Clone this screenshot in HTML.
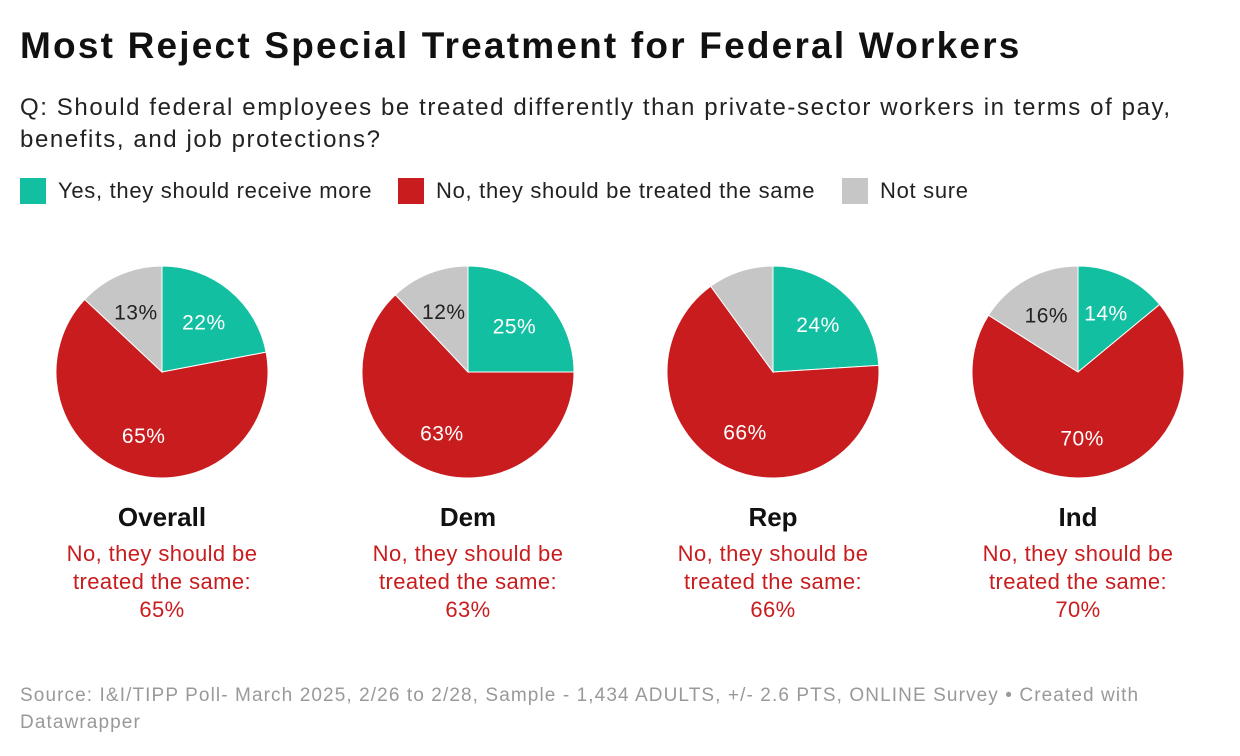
<!DOCTYPE html>
<html><head><meta charset="utf-8"><style>
body{margin:0;width:1240px;height:756px;background:#fff;font-family:"Liberation Sans",sans-serif;position:relative;overflow:hidden;color:#222}
.t{position:absolute;left:20px;top:25px;font-size:37px;font-weight:bold;color:#111;margin:0;letter-spacing:2.2px;white-space:nowrap}
.s{position:absolute;left:20px;top:92px;font-size:24px;line-height:32px;color:#222;width:1200px;letter-spacing:1.6px}
.lg{position:absolute;top:178px;left:20px;font-size:22px;letter-spacing:0.7px}
.lg div{position:absolute;top:0;display:flex;align-items:center;white-space:nowrap;height:26px}
.lg span.sw{display:inline-block;width:26px;height:26px;margin-right:12px}
.f{position:absolute;left:20px;top:682px;font-size:19px;line-height:27px;color:#999;width:1190px;letter-spacing:1.1px}
</style></head><body>
<h1 class="t">Most Reject Special Treatment for Federal Workers</h1>
<div class="s">Q: Should federal employees be treated differently than private-sector workers in terms of pay, benefits, and job protections?</div>
<div class="lg">
<div style="left:0"><span class="sw" style="background:#13bfa1"></span>Yes, they should receive more</div>
<div style="left:378px"><span class="sw" style="background:#c81c1e"></span>No, they should be treated the same</div>
<div style="left:822px"><span class="sw" style="background:#c6c6c6"></span>Not sure</div>
</div>
<svg id="c" width="1240" height="640" style="position:absolute;left:0;top:0"></svg>
<div class="f">Source: I&amp;I/TIPP Poll- March 2025, 2/26 to 2/28, Sample - 1,434 ADULTS, +/- 2.6 PTS, ONLINE Survey • Created with Datawrapper</div>
<script>
const groups=["Overall","Dem","Rep","Ind"];
const yesVals=[22,25,24,14];
const noVals=[65,63,66,70];
const notSureVals=[13,12,10,16];
const colors=["#13bfa1","#c81c1e","#c6c6c6"];
const svg=document.getElementById('c');
const NS="http://www.w3.org/2000/svg";
const cxs=[162,468,773,1078],cy=372,R=106;
function mk(t,a){const e=document.createElementNS(NS,t);for(const k in a)e.setAttribute(k,a[k]);svg.appendChild(e);return e;}
groups.forEach((g,i)=>{
  const vals=[yesVals[i],noVals[i],notSureVals[i]];
  const tot=vals.reduce((a,b)=>a+b,0);
  let a0=0;const cx=cxs[i];
  vals.forEach((v,j)=>{
    const a1=a0+v/tot*2*Math.PI;
    const x0=cx+R*Math.sin(a0),y0=cy-R*Math.cos(a0),x1=cx+R*Math.sin(a1),y1=cy-R*Math.cos(a1);
    const p=mk('path',{d:`M${cx},${cy}L${x0},${y0}A${R},${R} 0 ${a1-a0>Math.PI?1:0} 1 ${x1},${y1}Z`,fill:colors[j],stroke:'#fff','stroke-width':1});
    
    
    if(v>=11){
      const m=(a0+a1)/2;
      const t=mk('text',{x:cx+0.62*R*Math.sin(m),y:cy-0.62*R*Math.cos(m)+8,'text-anchor':'middle','font-size':21,'letter-spacing':0.5,fill:j==2?'#222':'#fff'});
      t.textContent=v+'%';
      
      
    }
    a0=a1;
  });
  const n=mk('text',{x:cx,y:526,'text-anchor':'middle','font-size':26,'font-weight':'bold',fill:'#111'});
  n.textContent=g;
  
  
  ["No, they should be","treated the same:",noVals[i]+"%"].forEach((s,k)=>{
    const t=mk('text',{x:cx,y:561+k*28,'text-anchor':'middle','font-size':22,'letter-spacing':0.4,fill:'#c81c1e'});
    t.textContent=s;
    
    
  });
});
</script>
</body></html>
